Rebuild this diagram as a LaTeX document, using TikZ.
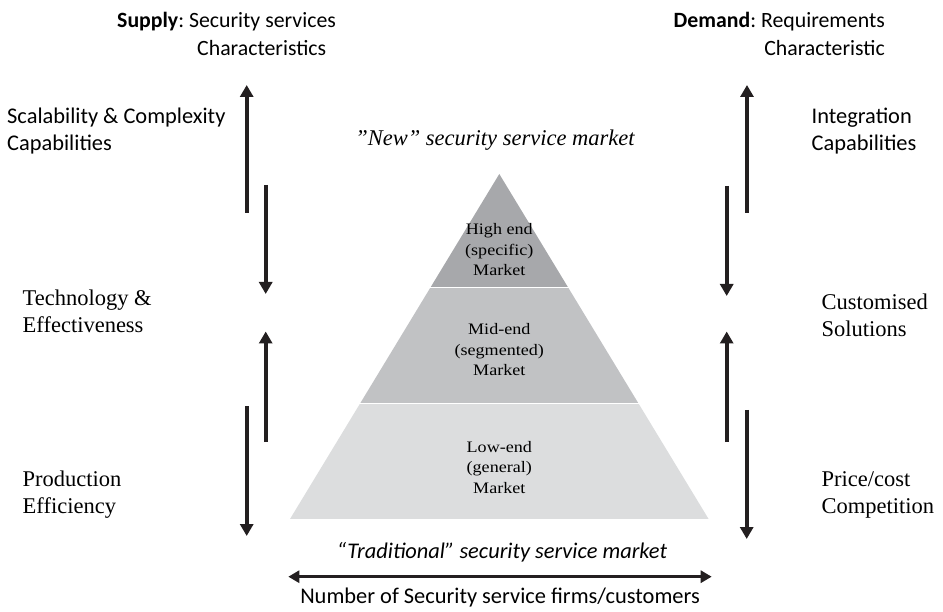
\documentclass[tikz,border=0pt]{standalone}
\usepackage{fontspec}
\setmainfont{Liberation Serif}
\newfontfamily\sansf{Carlito}
\newfontfamily\pyrf[FakeStretch=1.13]{Liberation Serif}
\usetikzlibrary{arrows.meta}
\definecolor{topc}{HTML}{A7A8AB}
\definecolor{midc}{HTML}{C1C2C4}
\definecolor{lowc}{HTML}{DCDDDE}
\definecolor{arrc}{HTML}{231F20}
\frenchspacing
\begin{document}
\begin{tikzpicture}[x=1pt,y=-1pt,
  vert/.style={line width=4pt, draw=arrc, -{Triangle[width=13pt,length=12pt]}},
  horiz/.style={line width=3pt, draw=arrc, {Triangle[width=12pt,length=11pt]}-{Triangle[width=12pt,length=11pt]}},
  slab/.style={font=\sansf\fontsize{22.4}{27}\selectfont, align=left, anchor=west, inner sep=0pt},
  rlab/.style={font=\fontsize{22.5}{27}\selectfont, align=left, anchor=west, inner sep=0pt},
  hdr/.style={font=\sansf\fontsize{21.8}{26}\selectfont, inner sep=0pt},
  ptxt/.style={font=\pyrf\fontsize{16}{20.5}\selectfont, align=center, inner sep=0pt}]
\useasboundingbox (0,0) rectangle (943,612);

% pyramid
\begin{scope}
  \clip (499.3,174) -- (708.6,519) -- (290,519) -- cycle;
  \fill[topc] (280,170) rectangle (720,286.7);
  \fill[midc] (280,288.3) rectangle (720,402.7);
  \fill[lowc] (280,404.3) rectangle (720,519);
\end{scope}
\node[ptxt] (high) at (499.3,250) {High end\\(specific)\\Market};
\node[ptxt] (mid) at (499.3,350) {Mid-end\\(segmented)\\Market};
\node[ptxt] (low) at (499.3,467.5) {Low-end\\(general)\\Market};

\node[font=\itshape\fontsize{22.5}{26}\selectfont, inner sep=0pt] (new) at (495,140) {”New” security service market};
\node[font=\sansf\itshape\fontsize{22.4}{26}\selectfont, inner sep=0pt] (trad) at (502,552) {“Traditional” security service market};

% headers
\node[hdr, anchor=west] (sup1) at (117,22) {\textbf{Supply}: Security services};
\node[hdr, anchor=west] (sup2) at (197,48) {Characteristics};
\node[hdr, anchor=east] (dem1) at (885,22) {\textbf{Demand}: Requirements};
\node[hdr, anchor=east] (dem2) at (885,48) {Characteristic};

% side labels
\node[slab] (scal) at (7,131) {Scalability \& Complexity\\Capabilities};
\node[rlab] (tech) at (22.5,311) {Technology \&\\Effectiveness};
\node[rlab] (prod) at (22.5,495) {Production\\Efficiency};
\node[slab] (integ) at (811.5,131) {Integration\\Capabilities};
\node[rlab] (cust) at (821.5,315) {Customised\\Solutions};
\node[rlab] (price) at (821.5,495) {Price/cost\\Competition};

% arrow endpoints
\coordinate (l1a) at (246.7,213);   \coordinate (l1b) at (246.7,85);
\coordinate (l2a) at (265.7,185);   \coordinate (l2b) at (265.7,294);
\coordinate (l3a) at (265.7,442);   \coordinate (l3b) at (265.7,331.5);
\coordinate (l4a) at (246.7,406.5); \coordinate (l4b) at (246.7,536);
\coordinate (r1a) at (747,213);     \coordinate (r1b) at (747,85);
\coordinate (r2a) at (726.7,186);   \coordinate (r2b) at (726.7,296);
\coordinate (r3a) at (726.7,442);   \coordinate (r3b) at (726.7,331.5);
\coordinate (r4a) at (746.7,410);   \coordinate (r4b) at (746.7,539);
\coordinate (hl) at (288.3,576.7);  \coordinate (hr) at (711.7,576.7);

\draw[vert] (l1a) -- (l1b);
\draw[vert] (l2a) -- (l2b);
\draw[vert] (l3a) -- (l3b);
\draw[vert] (l4a) -- (l4b);
\draw[vert] (r1a) -- (r1b);
\draw[vert] (r2a) -- (r2b);
\draw[vert] (r3a) -- (r3b);
\draw[vert] (r4a) -- (r4b);
\draw[horiz] (hl) -- (hr);

\node[font=\sansf\fontsize{22.4}{26}\selectfont, inner sep=0pt] (num) at (500,598) {Number of Security service firms/customers};
\end{tikzpicture}
\end{document}
